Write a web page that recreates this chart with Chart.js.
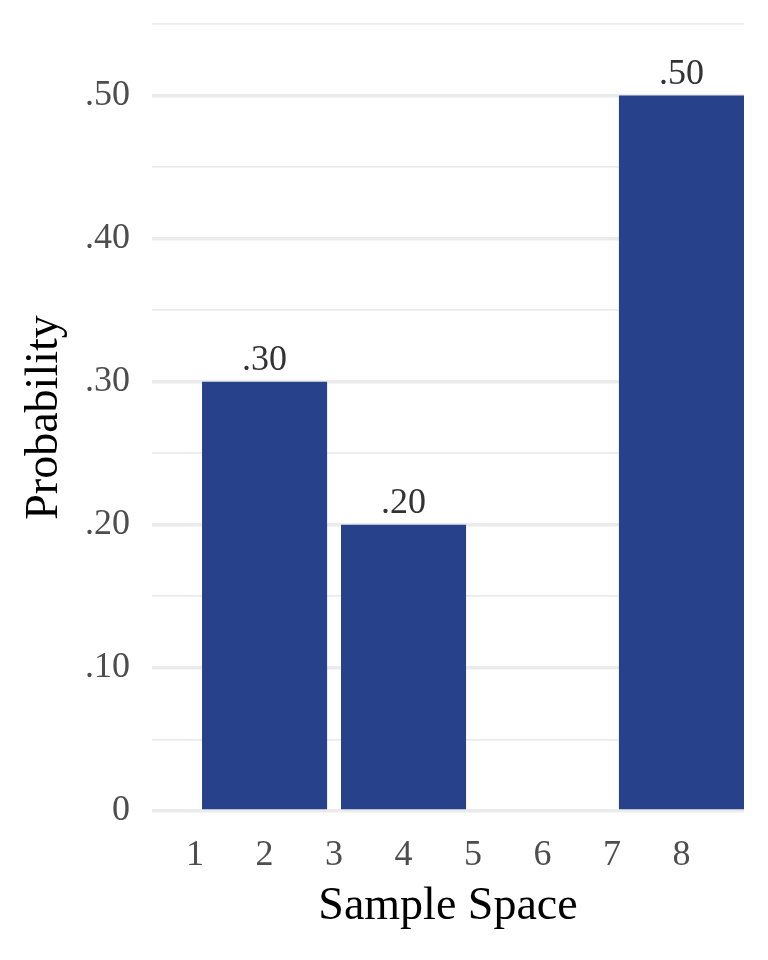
<!DOCTYPE html>
<html>
<head>
<meta charset="utf-8">
<script src="https://cdn.jsdelivr.net/npm/chart.js@4"></script>
<style>
  html, body { margin: 0; padding: 0; background: #fff; }
  #wrap { width: 768px; height: 960px; }
</style>
</head>
<body>
<div id="wrap"><canvas id="probChart"></canvas></div>
<script>
// Data
const sampleSpace = [1, 2, 3, 4, 5, 6, 7, 8];
const outcomes = [2, 4, 8];
const probabilities = [0.30, 0.20, 0.50];
const yTickValues = [0, 0.10, 0.20, 0.30, 0.40, 0.50];
const yTickLabels = ['0', '.10', '.20', '.30', '.40', '.50'];
const yMinorValues = [0.05, 0.15, 0.25, 0.35, 0.45, 0.55];

const serif = '"Liberation Serif", "Times New Roman", serif';

// ".30" style labels, no leading zero
function formatProb(v) {
    return v === 0 ? '0' : v.toFixed(2).replace(/^0/, '');
}

// Draws the value above each bar
const barLabels = {
    id: 'barLabels',
    afterDatasetsDraw(chart) {
        const ctx = chart.ctx;
        const meta = chart.getDatasetMeta(0);
        ctx.save();
        ctx.font = '36px ' + serif;
        ctx.fillStyle = '#333333';
        ctx.textAlign = 'center';
        ctx.textBaseline = 'alphabetic';
        meta.data.forEach((bar, i) => {
            ctx.fillText(formatProb(probabilities[i]), bar.x, bar.y - 12);
        });
        ctx.restore();
    }
};

function createProbabilityChart() {
    const ctx = document.getElementById('probChart').getContext('2d');
    return new Chart(ctx, {
        type: 'bar',
        data: {
            datasets: [{
                label: 'Probability',
                data: outcomes.map((x, i) => ({ x: x, y: probabilities[i] })),
                backgroundColor: '#27418a',
                borderWidth: 0,
                categoryPercentage: 1.8,
                barPercentage: 1
            }]
        },
        options: {
            responsive: true,
            maintainAspectRatio: false,
            animation: false,
            layout: { padding: { left: 0, right: 24, top: 24, bottom: 0 } },
            plugins: { legend: { display: false }, tooltip: { enabled: false } },
            scales: {
                x: {
                    type: 'linear',
                    min: 0.38,
                    max: 8.9,
                    offset: false,
                    afterBuildTicks: s => { s.ticks = sampleSpace.map(v => ({ value: v })); },
                    afterFit: s => { s.height = 149; },
                    grid: { display: false, drawTicks: false },
                    border: { display: false },
                    ticks: {
                        autoSkip: false,
                        maxRotation: 0,
                        padding: 23,
                        color: '#4d4d4d',
                        font: { family: serif, size: 36 }
                    },
                    title: {
                        display: true,
                        text: 'Sample Space',
                        color: '#000000',
                        font: { family: serif, size: 46 },
                        padding: { top: 0, bottom: 25 }
                    }
                },
                y: {
                    min: 0,
                    max: 0.55,
                    afterBuildTicks: s => {
                        s.ticks = yTickValues.concat(yMinorValues)
                            .sort((a, b) => a - b)
                            .map(v => ({ value: v }));
                    },
                    // fixed axis width, and no extra room above the top gridline
                    afterFit: s => { s.width = 152; s.paddingTop = 0; },
                    grid: {
                        color: '#ebebeb',
                        lineWidth: c => yTickValues.includes(c.tick.value) ? 3.5 : 1.8,
                        drawTicks: false
                    },
                    border: { display: false },
                    ticks: {
                        autoSkip: false,
                        padding: 22,
                        color: '#4d4d4d',
                        font: { family: serif, size: 36 },
                        callback: v => {
                            const i = yTickValues.indexOf(v);
                            return i >= 0 ? yTickLabels[i] : '';
                        }
                    },
                    title: {
                        display: true,
                        text: 'Probability',
                        color: '#000000',
                        font: { family: serif, size: 46 },
                        padding: { top: 17, bottom: 0 }
                    }
                }
            }
        },
        plugins: [barLabels]
    });
}

createProbabilityChart();
</script>
</body>
</html>
